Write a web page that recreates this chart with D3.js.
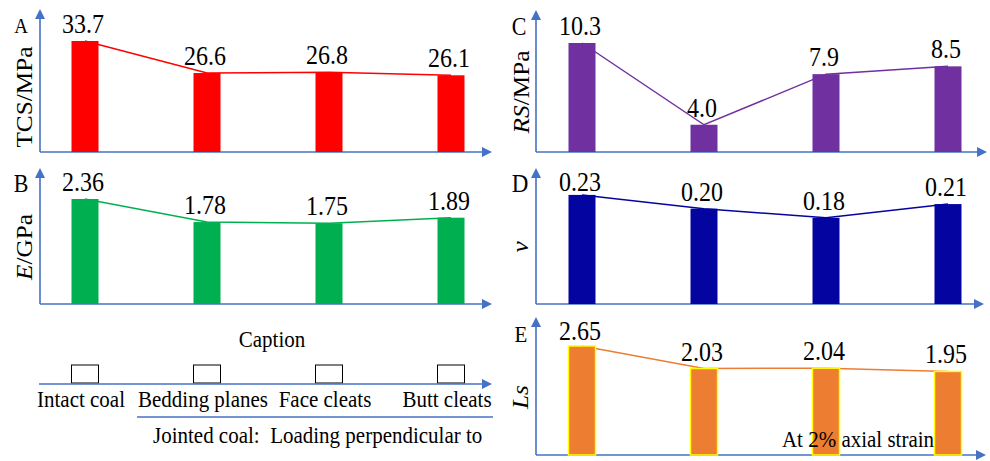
<!DOCTYPE html>
<html>
<head>
<meta charset="utf-8">
<script src="https://cdn.jsdelivr.net/npm/d3@7"></script>
<style>
  html, body { margin: 0; padding: 0; background: #fff; }
  text { font-family: "Liberation Serif", "Times New Roman", serif; fill: #000; }
</style>
</head>
<body>
<div id="chart"></div>
<script>
// categories and values
var categories = ["Intact coal", "Bedding planes", "Face cleats", "Butt cleats"];
var tcs = [33.7, 26.6, 26.8, 26.1];
var modulus = [2.36, 1.78, 1.75, 1.89];
var residual = [10.3, 4.0, 7.9, 8.5];
var poisson = [0.23, 0.20, 0.18, 0.21];
var lsValues = [2.65, 2.03, 2.04, 1.95];

// value axes do not start at zero in the original
var tcsDomain = [9.1, 33.7];
var modulusDomain = [-0.28, 2.36];
var residualDomain = [1.9, 10.3];
var poissonDomain = [-0.008, 0.232];
var lsDomain = [-0.35, 2.65];

var W = 990, H = 461;
var axisBlue = "#4472C4";
var serif = "'Liberation Serif', 'Times New Roman', serif";
var stretch = 1.1; // text in the picture is a bit taller than wide

var svg = d3.select("#chart").append("svg")
  .attr("width", W).attr("height", H);

function txt(g, x, y, str, size, anchor) {
  return g.append("text")
    .attr("transform", "translate(" + x + "," + y + ") scale(1," + stretch + ")")
    .attr("text-anchor", anchor || "middle")
    .attr("font-family", serif)
    .style("font-size", size + "px")
    .text(str);
}

function axes(g, x0, base, tipY, tipX) {
  g.append("line").attr("x1", x0).attr("y1", base).attr("x2", x0).attr("y2", tipY + 8)
    .attr("stroke", axisBlue).attr("stroke-width", 1.6);
  g.append("path").attr("d", "M" + x0 + "," + tipY + "l-5,10h10z").attr("fill", axisBlue);
  g.append("line").attr("x1", x0).attr("y1", base).attr("x2", tipX - 8).attr("y2", base)
    .attr("stroke", axisBlue).attr("stroke-width", 1.6);
  g.append("path").attr("d", "M" + tipX + "," + base + "l-10,-5v10z").attr("fill", axisBlue);
}

var xLeft = d3.scalePoint().domain(categories).range([85, 451]);
var xRight = d3.scalePoint().domain(categories).range([582, 948]);
var barW = 27;

var panels = [
  { letter: "A", values: tcs, domain: tcsDomain, fmt: ".1f", x: xLeft, x0: 40, tipX: 492,
    base: 152, top: 41, tipY: 9, color: "#FF0000", title: [["TCS/MPa", false]], tx: 32, ty: 97, lx: 21, ly: 33, ls: 19 },
  { letter: "B", values: modulus, domain: modulusDomain, fmt: ".2f", x: xLeft, x0: 40, tipX: 492,
    base: 304, top: 199, tipY: 168, color: "#00B050", title: [["E", true], ["/GPa", false]], tx: 32, ty: 247, lx: 21, ly: 192, ls: 22 },
  { letter: "C", values: residual, domain: residualDomain, fmt: ".1f", x: xRight, x0: 536, tipX: 987,
    base: 152, top: 43, tipY: 10, color: "#7030A0", title: [["RS", true], ["/MPa", false]], tx: 529, ty: 92, lx: 519, ly: 35, ls: 22 },
  { letter: "D", values: poisson, domain: poissonDomain, fmt: ".2f", x: xRight, x0: 536, tipX: 984,
    base: 304, top: 194, tipY: 168, color: "#0404A0", title: [["\u03bd", true]], tx: 528, ty: 247, lx: 520, ly: 192, ls: 23 },
  { letter: "E", values: lsValues, domain: lsDomain, fmt: ".2f", x: xRight, x0: 536, tipX: 986,
    base: 455, top: 346, tipY: 317, color: "#ED7D31", stroke: "#FFFF00", title: [["Ls", true]], tx: 528, ty: 397, lx: 521, ly: 342, ls: 21 }
];

panels.forEach(function (p) {
  var g = svg.append("g");
  var y = d3.scaleLinear().domain(p.domain).range([p.base, p.top]);
  var data = categories.map(function (c, i) { return { cat: c, v: p.values[i] }; });

  axes(g, p.x0, p.base, p.tipY, p.tipX);

  // connecting line sits under the bars
  var line = d3.line().x(function (d) { return p.x(d.cat); }).y(function (d) { return y(d.v); });
  g.append("path").datum(data).attr("d", line)
    .attr("fill", "none").attr("stroke", p.color).attr("stroke-width", 1.5);

  g.selectAll("rect.bar").data(data).join("rect")
    .attr("class", "bar")
    .attr("x", function (d) { return p.x(d.cat) - barW / 2; })
    .attr("y", function (d) { return y(d.v); })
    .attr("width", barW)
    .attr("height", function (d) { return p.base - y(d.v); })
    .attr("fill", p.color)
    .attr("stroke", p.stroke || "none")
    .attr("stroke-width", p.stroke ? 1.5 : 0);

  var f = d3.format(p.fmt);
  data.forEach(function (d) {
    var ly = Math.max(y(d.v) - 8, p.tipY + 23);
    txt(g, p.x(d.cat) - 2, ly, f(d.v), 24);
  });

  txt(g, p.lx, p.ly, p.letter, p.ls);

  var t = g.append("text")
    .attr("transform", "translate(" + p.tx + "," + p.ty + ") scale(1," + stretch + ") rotate(-90)")
    .attr("text-anchor", "middle")
    .attr("font-family", serif)
    .style("font-size", "23px");
  p.title.forEach(function (s) {
    t.append("tspan").style("font-style", s[1] ? "italic" : "normal").text(s[0]);
  });
});

txt(svg, 858, 447, "At 2% axial strain", 21);

// caption panel
var cap = svg.append("g");
txt(cap, 272, 347, "Caption", 21);
cap.selectAll("rect.box").data(categories).join("rect")
  .attr("class", "box")
  .attr("x", function (d) { return xLeft(d) - barW / 2; })
  .attr("y", 365).attr("width", barW).attr("height", 18)
  .attr("fill", "#fff").attr("stroke", "#000").attr("stroke-width", 1);
cap.append("line").attr("x1", 39).attr("y1", 384).attr("x2", 484).attr("y2", 384)
  .attr("stroke", axisBlue).attr("stroke-width", 1.6);
cap.append("path").attr("d", "M492,384l-10,-5v10z").attr("fill", axisBlue);
categories.forEach(function (c) {
  txt(cap, xLeft(c) - 4, 407, c, 21);
});
cap.append("line").attr("x1", 137).attr("y1", 417).attr("x2", 493).attr("y2", 417)
  .attr("stroke", axisBlue).attr("stroke-width", 1.6);
txt(cap, 153, 443, "Jointed coal:\u00a0 Loading perpendicular to", 21, "start");
</script>
</body>
</html>
